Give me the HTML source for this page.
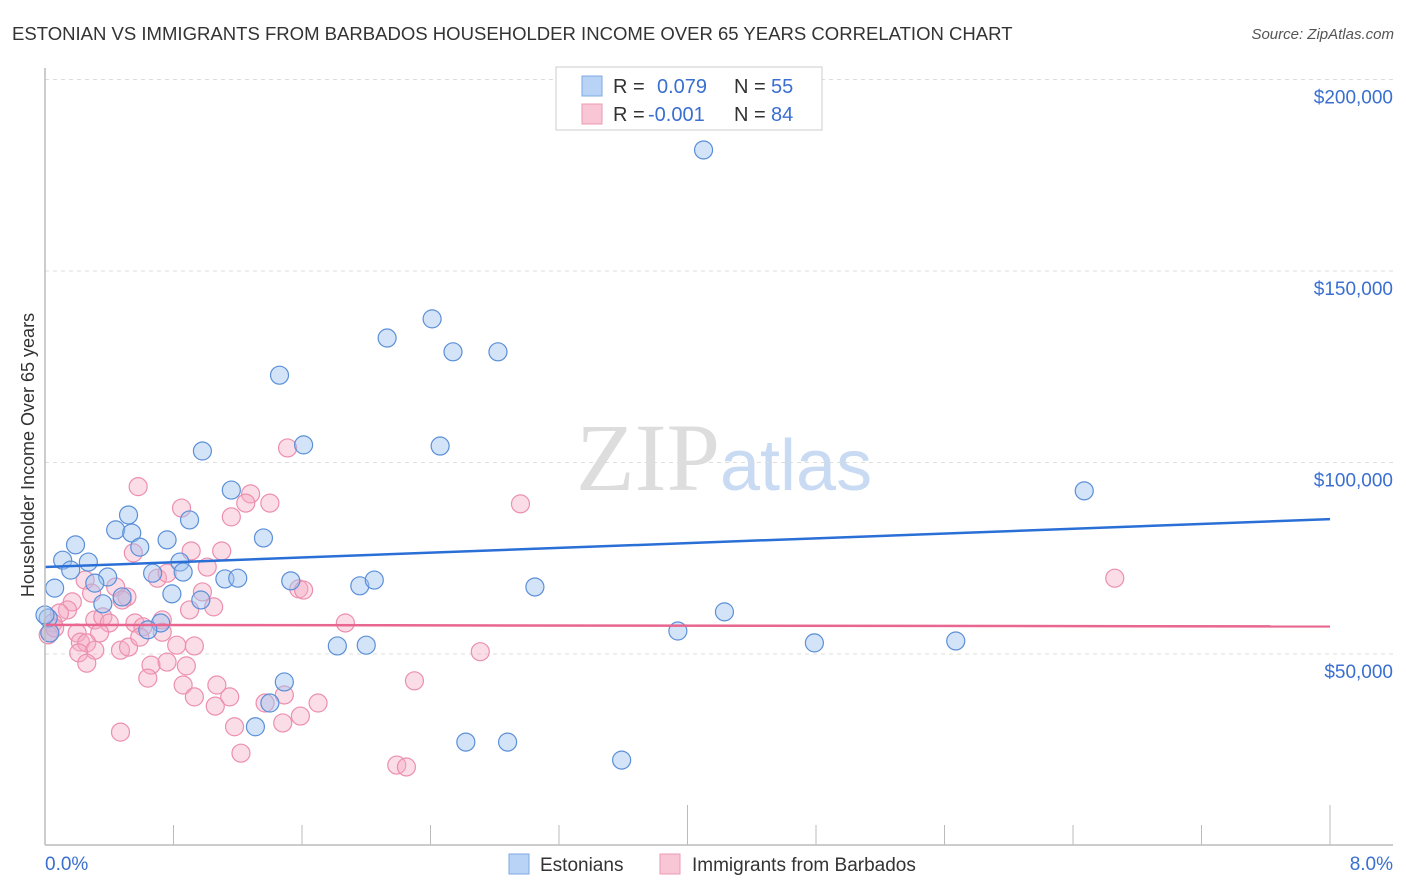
<!DOCTYPE html>
<html><head><meta charset="utf-8"><style>
body{margin:0;background:#fff;font-family:"Liberation Sans",sans-serif}
svg{display:block}
</style></head><body>
<svg id="c" width="1406" height="892" xmlns="http://www.w3.org/2000/svg">
<text x="12" y="40" font-size="18.55" fill="#333">ESTONIAN VS IMMIGRANTS FROM BARBADOS HOUSEHOLDER INCOME OVER 65 YEARS CORRELATION CHART</text>
<text x="1394" y="39" font-size="15" fill="#555" font-style="italic" text-anchor="end">Source: ZipAtlas.com</text>
<text x="0" y="0" transform="translate(34,455) rotate(-90)" font-size="18" fill="#333" text-anchor="middle">Householder Income Over 65 years</text>
<text x="720" y="490" font-size="96" fill="#ddd" text-anchor="end" font-family="Liberation Serif,serif">ZIP</text>
<text x="720" y="490" font-size="72" fill="#c9daf3">atlas</text>
<g id="grid"></g><g id="pts"></g><g id="trend"></g>
<line x1="45" y1="68" x2="45" y2="845" stroke="#bbb" stroke-width="1.5"/>
<line x1="45" y1="845" x2="1393" y2="845" stroke="#bbb" stroke-width="1.5"/>
<g id="ticks"></g>
<text x="45" y="870" font-size="19" fill="#3a6fd0">0.0%</text>
<text x="1393" y="870" font-size="19" fill="#3a6fd0" text-anchor="end">8.0%</text>
<g>
<rect x="556" y="67" width="266" height="63" fill="#fff" stroke="#ccc"/>
<rect x="582" y="76" width="20" height="20" fill="#b8d3f5" stroke="#7ea8e3"/>
<rect x="582" y="104" width="20" height="20" fill="#f9c6d5" stroke="#ec9ab3"/>
<text x="613" y="93" font-size="20" fill="#333">R = </text><text x="657" y="93" font-size="20" fill="#3a6fd0">0.079</text>
<text x="734" y="93" font-size="20" fill="#333">N = </text><text x="771" y="93" font-size="20" fill="#3a6fd0">55</text>
<text x="613" y="121" font-size="20" fill="#333">R = </text><text x="648" y="121" font-size="20" fill="#3a6fd0">-0.001</text>
<text x="734" y="121" font-size="20" fill="#333">N = </text><text x="771" y="121" font-size="20" fill="#3a6fd0">84</text>
</g>
<g>
<rect x="509" y="854" width="20" height="20" fill="#b8d3f5" stroke="#7ea8e3"/>
<text x="540" y="871" font-size="19" fill="#333">Estonians</text>
<rect x="660" y="854" width="20" height="20" fill="#f9c6d5" stroke="#ec9ab3"/>
<text x="692" y="871" font-size="19" fill="#333">Immigrants from Barbados</text>
</g>
</svg>
<script>
const yTicks=[50000,100000,150000,200000];
const yTickLabels=["$50,000","$100,000","$150,000","$200,000"];
const xTicks=[0,0.8,1.6,2.4,3.2,4,4.8,5.6,6.4,7.2,8];
const estX=[4.10,2.41,2.13,2.54,2.82,1.46,1.61,2.46,0.98,6.47,1.16,0.90,0.52,0.44,0.54,0.59,0.76,1.36,0.19,0.11,0.27,0.16,0.84,0.86,0.67,0.39,0.31,1.12,1.20,1.53,1.96,2.05,3.05,0.06,0.79,0.48,0.97,0.36,4.23,0.72,0.64,3.94,0.02,0.03,1.82,2.00,4.79,5.67,1.49,1.40,1.31,2.62,2.88,3.59,0.00];
const estY=[181.6,137.5,132.5,128.9,128.9,122.8,104.6,104.3,103.0,92.6,92.8,85.0,86.3,82.4,81.6,77.9,79.8,80.3,78.5,74.5,74.0,71.9,74.0,71.4,71.1,70.1,68.5,69.6,69.8,69.1,67.8,69.3,67.5,67.2,65.7,64.9,64.1,63.1,61.0,58.1,56.3,56.0,59.4,55.5,52.1,52.3,52.9,53.4,42.7,37.2,31.0,27.0,27.0,22.3,60.2];
const barX=[1.51,0.58,0.85,1.28,1.25,1.40,1.16,0.55,0.91,1.10,1.01,0.70,0.76,0.25,0.29,0.44,0.51,0.48,0.98,0.90,1.05,1.58,1.61,0.17,0.14,0.09,0.05,0.03,0.20,0.31,0.36,0.40,0.56,0.61,0.73,0.73,0.34,0.22,0.26,0.31,0.21,0.26,0.47,0.52,0.59,0.82,0.93,1.87,0.66,0.76,0.88,0.64,0.86,0.93,1.07,1.06,1.15,1.37,1.49,1.70,1.59,1.48,1.18,0.47,1.22,2.96,6.66,2.71,2.30,2.19,2.25,0.02,0.06];
const barY=[103.8,93.7,88.1,91.8,89.4,89.4,85.8,76.4,76.9,76.9,72.7,69.8,71.1,69.3,65.9,67.5,64.9,64.1,66.2,61.5,62.3,67.0,66.7,63.6,61.5,60.7,58.1,55.5,55.5,58.9,59.7,58.1,58.1,57.1,58.9,55.7,55.5,53.1,52.9,51.0,50.3,47.6,51.0,51.8,54.4,52.3,52.1,58.1,47.1,47.9,46.9,43.7,41.9,38.8,41.9,36.4,38.8,37.2,39.3,37.2,33.8,32.0,31.0,29.6,24.1,89.2,69.8,50.6,43.0,21.0,20.5,55.0,56.8];
const estTrend=[72.7,85.2];
const barTrend=[57.6,57.2];
const NS="http://www.w3.org/2000/svg";
const sx=v=>45+v/8*1285;
const sy=k=>845.5-k*3.83;
function mk(t,a,p){const e=document.createElementNS(NS,t);for(const k in a)e.setAttribute(k,a[k]);p.appendChild(e);return e;}
const grid=document.getElementById('grid');
yTicks.forEach((v,i)=>{
  const l=mk('line',{x1:45,x2:1393,y1:sy(v/1000),y2:sy(v/1000),stroke:'#ddd','stroke-dasharray':'4,4'},grid);
  
  
  const t=mk('text',{x:1393,y:sy(v/1000)+24,'font-size':19,fill:'#3a6fd0','text-anchor':'end'},grid);
  t.textContent=yTickLabels[i];
  
  
});
const ticks=document.getElementById('ticks');
xTicks.forEach((v,i)=>{
  const tall=(i%5===0);
  const l=mk('line',{x1:sx(v),x2:sx(v),y1:tall?805:825,y2:845,stroke:'#bbb'},ticks);
  
  
});
const pts=document.getElementById('pts');
barX.forEach((x,i)=>{
  const c=mk('circle',{cx:sx(x),cy:sy(barY[i]),r:9,fill:'rgba(246,170,195,0.4)',stroke:'#ec8fae','stroke-width':1.2},pts);
  
  
});
estX.forEach((x,i)=>{
  const c=mk('circle',{cx:sx(x),cy:sy(estY[i]),r:9,fill:'rgba(160,195,240,0.45)',stroke:'#5b8fd8','stroke-width':1.2},pts);
  
  
});
const tr=document.getElementById('trend');
const a=mk('line',{x1:sx(0),x2:sx(8),y1:sy(estTrend[0]),y2:sy(estTrend[1]),stroke:'#2a6fd6','stroke-width':2.5},tr);


const b=mk('line',{x1:sx(0),x2:sx(8),y1:sy(barTrend[0]),y2:sy(barTrend[1]),stroke:'#e8668f','stroke-width':2.5},tr);


</script>
</body></html>
